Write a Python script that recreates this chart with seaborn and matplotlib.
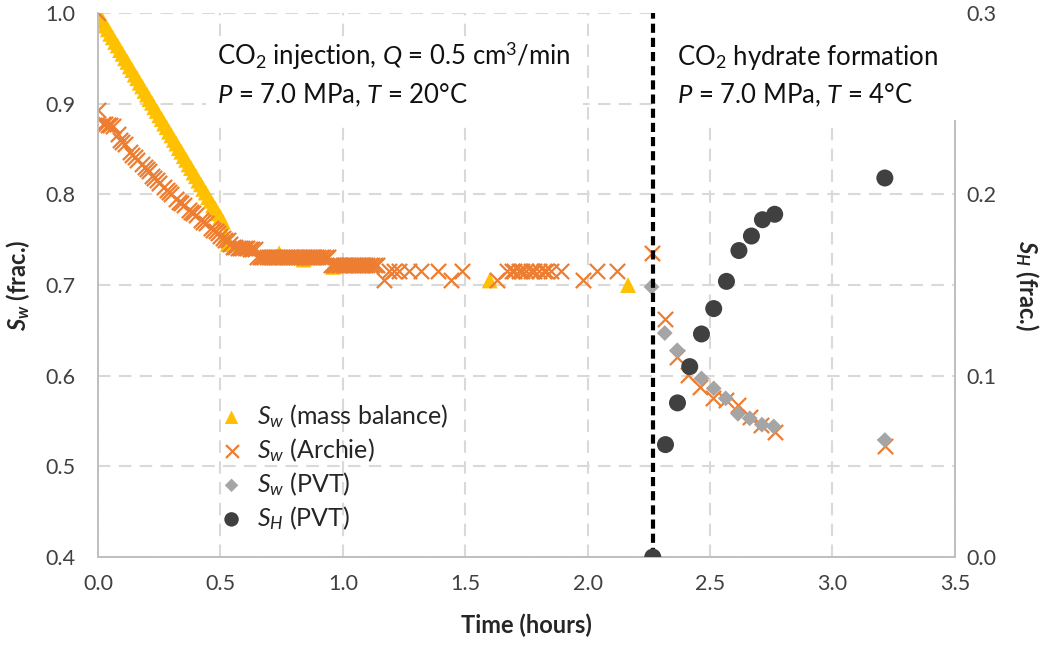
import numpy as np
import pandas as pd
import seaborn as sns
import matplotlib.pyplot as plt
from matplotlib.patches import Rectangle

# S_w from mass balance (hours, frac.)
mb_t = [0.00, 0.01, 0.02, 0.03, 0.04, 0.05, 0.06, 0.07, 0.08, 0.09,
        0.10, 0.11, 0.12, 0.13, 0.14, 0.15, 0.16, 0.17, 0.18, 0.19,
        0.20, 0.21, 0.22, 0.23, 0.24, 0.25, 0.26, 0.27, 0.28, 0.29,
        0.30, 0.31, 0.32, 0.33, 0.34, 0.35, 0.36, 0.37, 0.38, 0.39,
        0.40, 0.41, 0.42, 0.43, 0.44, 0.45, 0.46, 0.47, 0.48, 0.49,
        0.50, 0.51, 0.52, 0.53, 0.74, 0.84, 0.96, 1.60, 2.165]
mb_sw = [1.000, 0.995, 0.991, 0.986, 0.982, 0.977, 0.973, 0.968, 0.964, 0.959,
         0.955, 0.950, 0.946, 0.941, 0.937, 0.932, 0.928, 0.923, 0.919, 0.914,
         0.910, 0.905, 0.901, 0.896, 0.892, 0.887, 0.883, 0.878, 0.874, 0.869,
         0.865, 0.860, 0.856, 0.851, 0.847, 0.842, 0.838, 0.833, 0.829, 0.824,
         0.820, 0.815, 0.811, 0.806, 0.802, 0.797, 0.793, 0.788, 0.784, 0.779,
         0.775, 0.770, 0.755, 0.745, 0.735, 0.728, 0.720, 0.705, 0.700]

# S_w from Archie's law
ar_t = [0.00, 0.00, 0.02, 0.03, 0.04, 0.05, 0.06, 0.08, 0.09, 0.10, 0.11,
        0.13, 0.14, 0.15, 0.16, 0.18, 0.19, 0.20, 0.21, 0.22, 0.23, 0.24, 0.25,
        0.27, 0.28, 0.29, 0.30, 0.32, 0.33, 0.34, 0.35, 0.37, 0.38, 0.39, 0.40,
        0.42, 0.43, 0.44, 0.46, 0.47, 0.48, 0.49, 0.50, 0.51, 0.52, 0.53,
        0.54, 0.55, 0.56, 0.57, 0.58, 0.59, 0.60, 0.61, 0.62, 0.63, 0.64,
        0.65, 0.66, 0.67, 0.68, 0.69, 0.70, 0.71, 0.72, 0.73, 0.74, 0.75,
        0.76, 0.77, 0.78, 0.79, 0.80, 0.81, 0.82, 0.83, 0.84, 0.85, 0.86,
        0.87, 0.88, 0.89, 0.90, 0.91, 0.92, 0.93, 0.94,
        0.95, 0.96, 0.97, 0.98, 0.99, 1.00, 1.01, 1.02, 1.03, 1.04, 1.05,
        1.06, 1.07, 1.08, 1.09, 1.10, 1.11, 1.12, 1.13, 1.14,
        1.17, 1.19, 1.21, 1.23, 1.27, 1.32, 1.39, 1.44, 1.485, 1.63,
        1.67, 1.69, 1.70, 1.72, 1.73, 1.75, 1.77, 1.78, 1.80, 1.82, 1.83, 1.85,
        1.89, 1.98, 2.04, 2.12,
        2.261, 2.315, 2.363, 2.410, 2.458, 2.512, 2.567, 2.614, 2.662, 2.710,
        2.764, 3.214]
ar_sw = [1.000, 0.893, 0.877, 0.877, 0.876, 0.876, 0.875, 0.866, 0.860, 0.858, 0.855,
         0.847, 0.843, 0.841, 0.838, 0.833, 0.830, 0.828, 0.826, 0.820, 0.818, 0.816, 0.813,
         0.808, 0.805, 0.803, 0.800, 0.795, 0.792, 0.790, 0.788, 0.783, 0.781, 0.779, 0.777,
         0.772, 0.770, 0.768, 0.763, 0.761, 0.760, 0.757, 0.754, 0.752, 0.750, 0.750,
         0.745, 0.742, 0.742, 0.741, 0.741, 0.741, 0.741, 0.741, 0.740, 0.740, 0.740,
         0.731, 0.731, 0.731, 0.731, 0.731, 0.731, 0.731, 0.731, 0.731, 0.731, 0.731,
         0.731, 0.731, 0.731, 0.731, 0.731, 0.731, 0.731, 0.731, 0.731, 0.731, 0.731,
         0.731, 0.731, 0.731, 0.731, 0.731, 0.731, 0.731, 0.731,
         0.722, 0.722, 0.722, 0.722, 0.722, 0.722, 0.722, 0.722, 0.722, 0.722, 0.722,
         0.722, 0.722, 0.722, 0.722, 0.722, 0.722, 0.722, 0.722, 0.722,
         0.706, 0.715, 0.715, 0.715, 0.715, 0.715, 0.715, 0.706, 0.715, 0.706,
         0.715, 0.715, 0.715, 0.715, 0.715, 0.715, 0.715, 0.715, 0.715, 0.715, 0.715, 0.715,
         0.715, 0.706, 0.715, 0.715,
         0.735, 0.663, 0.621, 0.601, 0.588, 0.575, 0.573, 0.568, 0.555, 0.546,
         0.538, 0.522]

# S_w from PVT
pvt_t = [2.261, 2.315, 2.366, 2.465, 2.515, 2.564, 2.614, 2.662, 2.712, 2.760, 3.214]
pvt_sw = [0.698, 0.647, 0.628, 0.597, 0.586, 0.575, 0.558, 0.553, 0.546, 0.544, 0.529]

# S_H from PVT (secondary axis)
sh_t = [2.266, 2.318, 2.367, 2.417, 2.465, 2.515, 2.567, 2.618, 2.669, 2.714, 2.764, 3.214]
sh = [0.000, 0.062, 0.085, 0.105, 0.123, 0.137, 0.152, 0.169, 0.177, 0.186, 0.189, 0.209]

hydrate_start = 2.266

sns.set_theme(style="white")
plt.rcParams['font.family'] = ['Lato', 'DejaVu Sans']
plt.rcParams['mathtext.fontset'] = 'custom'
plt.rcParams['mathtext.rm'] = 'Lato'
plt.rcParams['mathtext.it'] = 'Lato:italic'
plt.rcParams['mathtext.bf'] = 'Lato:bold'
plt.rcParams['mathtext.bfit'] = 'Lato:italic:bold'

fig, ax = plt.subplots(figsize=(10.47, 6.47), dpi=100)
fig.subplots_adjust(left=0.0936, right=0.912, bottom=0.139, top=0.980)
ax2 = ax.twinx()

sns.scatterplot(data=pd.DataFrame({"t": mb_t, "sw": mb_sw}), x="t", y="sw", ax=ax,
                marker="^", s=130, color="#FFC000", edgecolor="none", linewidth=0,
                label=r"$S_w$ (mass balance)", legend=False, zorder=3)
sns.scatterplot(data=pd.DataFrame({"t": ar_t, "sw": ar_sw}), x="t", y="sw", ax=ax,
                marker="x", s=120, color="#ED7D31", linewidth=1.6,
                label=r"$S_w$ (Archie)", legend=False, zorder=4)
sns.scatterplot(data=pd.DataFrame({"t": pvt_t, "sw": pvt_sw}), x="t", y="sw", ax=ax,
                marker="D", s=65, color="#A5A5A5", edgecolor="none", linewidth=0,
                label=r"$S_w$ (PVT)", legend=False, zorder=5)
sns.scatterplot(data=pd.DataFrame({"t": sh_t, "sh": sh}), x="t", y="sh", ax=ax2,
                marker="o", s=150, color="#404040", edgecolor="none", linewidth=0,
                label=r"$S_H$ (PVT)", legend=False, zorder=5)

ax.axvline(hydrate_start, color="black", lw=3, ls=(0, (2.2, 1.2)), zorder=6)

ax.set_xlim(0, 3.5)
ax.set_ylim(0.4, 1.0)
ax2.set_ylim(0.0, 0.3)
ax.set_xticks(np.arange(0, 3.51, 0.5))
ax.set_yticks(np.arange(0.4, 1.01, 0.1))
ax2.set_yticks(np.arange(0.0, 0.31, 0.1))
ax.xaxis.set_major_formatter(plt.FormatStrFormatter('%.1f'))
ax.yaxis.set_major_formatter(plt.FormatStrFormatter('%.1f'))
ax2.yaxis.set_major_formatter(plt.FormatStrFormatter('%.1f'))

ax.grid(True, color="#D9D9D9", ls=(0, (6, 4)), lw=1.5)
ax2.grid(False)
ax.spines["top"].set_visible(False)
ax2.spines["top"].set_visible(False)
for a in (ax, ax2):
    for s in ["left", "right", "bottom"]:
        a.spines[s].set_color("#BFBFBF")
        a.spines[s].set_linewidth(1.2)

ax.tick_params(axis="x", direction="in", length=7, color="#BFBFBF", width=1,
               labelsize=15.5, labelcolor="#404040", pad=12)
ax.tick_params(axis="y", length=0, labelsize=15.5, labelcolor="#404040", pad=16)
ax2.tick_params(axis="y", length=0, labelsize=15.5, labelcolor="#404040", pad=8)

ax.set_xlabel("Time (hours)", fontsize=17, fontweight="bold", color="#262626", labelpad=14)
ax.set_ylabel(r"$\mathbfit{S}_\mathbfit{w}$ (frac.)", fontsize=17, fontweight="bold",
              color="#262626", labelpad=10)
ax2.set_ylabel(r"$\mathbfit{S}_\mathbfit{H}$ (frac.)", fontsize=17, fontweight="bold",
               color="#262626", rotation=270, labelpad=32)

# white panels behind the two condition notes (they hide the grid like the original)
ax2.add_patch(Rectangle((0.44, 0.882), 1.98 - 0.44, 0.0915, transform=ax.transData,
                        facecolor="white", edgecolor="none", zorder=3, clip_on=False))
ax2.add_patch(Rectangle((2.295, 0.882), 3.515 - 2.295, 0.13, transform=ax.transData,
                        facecolor="white", edgecolor="none", zorder=3, clip_on=False))

ax2.text(0.486, 0.943, r"CO$_2$ injection, $Q$ = 0.5 cm$^3$/min", fontsize=18.5,
         color="#111111", va="baseline", zorder=7, transform=ax.transData)
ax2.text(0.486, 0.900, r"$P$ = 7.0 MPa, $T$ = 20°C", fontsize=18.5,
         color="#111111", va="baseline", zorder=7, transform=ax.transData)
ax2.text(2.364, 0.943, r"CO$_2$ hydrate formation", fontsize=18.5,
         color="#111111", va="baseline", zorder=7, transform=ax.transData)
ax2.text(2.364, 0.900, r"$P$ = 7.0 MPa, $T$ = 4°C", fontsize=18.5,
         color="#111111", va="baseline", zorder=7, transform=ax.transData)

h1, l1 = ax.get_legend_handles_labels()
h2, l2 = ax2.get_legend_handles_labels()
leg = ax2.legend(h1 + h2, l1 + l2, loc="lower left", bbox_to_anchor=(0.115, 0.005),
                 frameon=False, fontsize=18, handlelength=1.0, handletextpad=0.5,
                 labelspacing=0.25, markerscale=0.85)
for t in leg.get_texts():
    t.set_color("#262626")

plt.savefig("out.png", dpi=100)
